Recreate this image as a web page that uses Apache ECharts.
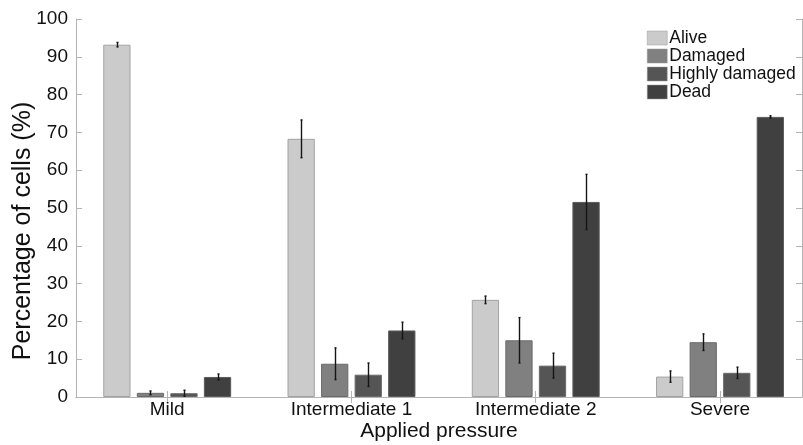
<!DOCTYPE html>
<html>
<head>
<meta charset="utf-8">
<script src="https://cdn.jsdelivr.net/npm/echarts@6/dist/echarts.min.js"></script>
<style>html,body{margin:0;padding:0;background:#fff}#c{width:803px;height:445px}</style>
</head>
<body>
<div id="c"></div>
<script>
const categories = ['Mild', 'Intermediate 1', 'Intermediate 2', 'Severe'];
const seriesNames = ['Alive', 'Damaged', 'Highly damaged', 'Dead'];
const alive = [93.2, 68.3, 25.7, 5.4];
const aliveErr = [0.6, 5.0, 1.0, 1.5];
const damaged = [1.1, 8.8, 15.0, 14.5];
const damagedErr = [0.5, 4.2, 6.0, 2.2];
const highly = [1.0, 5.9, 8.3, 6.4];
const highlyErr = [0.8, 3.1, 3.3, 1.5];
const dead = [5.3, 17.6, 51.6, 74.1];
const deadErr = [0.8, 2.2, 7.3, 0.3];
const yTicks = [0, 10, 20, 30, 40, 50, 60, 70, 80, 90, 100];

const values = [alive, damaged, highly, dead];
const errors = [aliveErr, damagedErr, highlyErr, deadErr];
const colors = ['#cbcbcb', '#808080', '#555555', '#404040'];
const borders = ['#a2a2a2', '#6a6a6a', '#6a6a6a', '#5a5a5a'];
const catPos = categories.map((c, i) => i + 1);
const BW = 0.148, GAP = 0.23;
const FONT = 'Liberation Sans';
const axisGray = '#b4b4b4';

const chart = echarts.init(document.getElementById('c'), null, {renderer: 'canvas'});

const series = [];
values.forEach((vals, si) => {
  series.push({
    name: seriesNames[si], type: 'bar',
    data: vals.map((v, i) => [catPos[i], v]),
    barWidth: (BW * 100) + '%', barGap: (GAP * 100) + '%',
    itemStyle: {color: colors[si], borderColor: borders[si], borderWidth: 1},
    z: 2
  });
});
values.forEach((vals, si) => {
  series.push({
    type: 'custom',
    data: vals.map((v, i) => [catPos[i], v - errors[si][i], v + errors[si][i]]),
    renderItem: function (params, api) {
      const band = api.size([1, 0])[0];
      const w = band * BW;
      const off = (si - 1.5) * w * (1 + GAP);
      const p1 = api.coord([api.value(0), api.value(1)]);
      const p2 = api.coord([api.value(0), api.value(2)]);
      const x = Math.round(p1[0] + off) + 0.5;
      return {
        type: 'group',
        children: [
          {type: 'line', shape: {x1: x, y1: p1[1], x2: x, y2: p2[1]}, style: {stroke: '#151515', lineWidth: 1.4}},
          {type: 'line', shape: {x1: x - 1, y1: p1[1], x2: x + 1, y2: p1[1]}, style: {stroke: '#151515', lineWidth: 1.4}},
          {type: 'line', shape: {x1: x - 1, y1: p2[1], x2: x + 1, y2: p2[1]}, style: {stroke: '#151515', lineWidth: 1.4}}
        ]
      };
    },
    z: 5, silent: true
  });
});

chart.setOption({
  animation: false,
  backgroundColor: '#ffffff',
  textStyle: {fontFamily: FONT},
  grid: {left: 76, right: 1, top: 19, bottom: 48, containLabel: false, outerBoundsMode: 'none'},
  legend: {
    orient: 'vertical', left: 647, top: 29, padding: 0,
    data: seriesNames,
    itemWidth: 20, itemHeight: 14, itemGap: 0,
    icon: 'rect',
    itemStyle: {borderColor: '#9a9a9a', borderWidth: 0.5},
    textStyle: {fontFamily: FONT, fontSize: 17.5, color: '#111', lineHeight: 18, padding: [0, 0, 0, -3]}
  },
  xAxis: [{
    type: 'value', min: 0.505, max: 4.445, position: 'bottom',
    name: 'Applied pressure', nameLocation: 'middle', nameGap: 24, nameMoveOverlap: false,
    nameTextStyle: {fontFamily: FONT, fontSize: 21, color: '#111'},
    axisLine: {show: true, lineStyle: {color: axisGray, width: 1}},
    axisTick: {show: true, inside: true, length: 6, customValues: catPos, lineStyle: {color: axisGray}},
    axisLabel: {show: true, customValues: catPos, margin: 3, fontFamily: FONT, fontSize: 19, color: '#111',
      formatter: v => categories[Math.round(v) - 1] || ''},
    splitLine: {show: false}
  }, {
    type: 'value', min: 0.505, max: 4.445, position: 'top',
    axisLine: {show: true, lineStyle: {color: axisGray, width: 1}},
    axisTick: {show: true, inside: true, length: 6, customValues: catPos, lineStyle: {color: axisGray}},
    axisLabel: {show: false},
    splitLine: {show: false}
  }],
  yAxis: [{
    type: 'value', min: 0, max: 100, interval: 10, position: 'left',
    name: 'Percentage of cells (%)', nameLocation: 'middle', nameGap: 40, nameRotate: 90, nameMoveOverlap: false,
    nameTextStyle: {fontFamily: FONT, fontSize: 25, color: '#111', padding: [0, 46, 0, 0]},
    axisLine: {show: true, lineStyle: {color: axisGray, width: 1}},
    axisTick: {show: true, inside: true, length: 6, lineStyle: {color: axisGray}},
    axisLabel: {show: true, margin: 8, fontFamily: FONT, fontSize: 19, color: '#111',
      formatter: v => (yTicks.indexOf(v) >= 0 ? String(v) : '')},
    splitLine: {show: false}
  }, {
    type: 'value', min: 0, max: 100, interval: 10, position: 'right',
    axisLine: {show: true, lineStyle: {color: axisGray, width: 1}},
    axisTick: {show: true, inside: true, length: 6, lineStyle: {color: axisGray}},
    axisLabel: {show: false},
    splitLine: {show: false}
  }],
  series: series
});
</script>
</body>
</html>
